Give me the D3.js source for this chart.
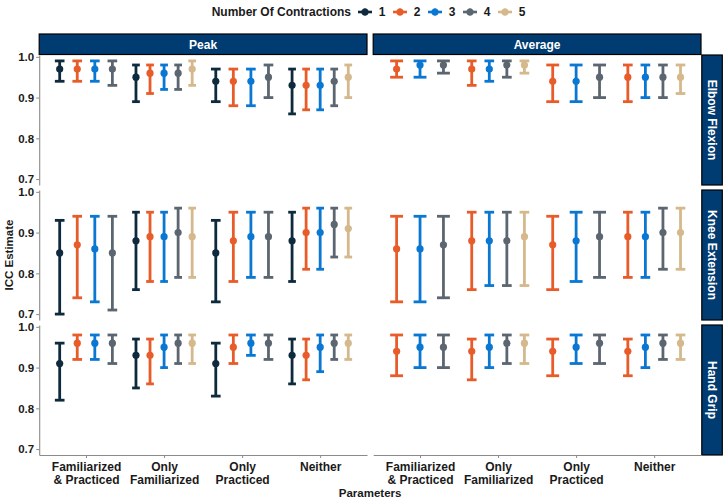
<!DOCTYPE html>
<html lang="en">
  <head>
    <meta charset="UTF-8" />
    <title>ICC Estimate by Parameters</title>
    <script src="https://d3js.org/d3.v7.min.js"></script>
    <style>
      body { margin: 0; background: #fff; }
      svg text { font-family: "Liberation Sans", Arial, sans-serif; font-weight: bold; }
    </style>
  </head>
  <body>
    <svg id="chart" width="727" height="501"></svg>

    <script>
      // categories
      const params = ["Familiarized & Practiced", "Only Familiarized", "Only Practiced", "Neither"];
      const paramLines = [["Familiarized", "& Practiced"], ["Only", "Familiarized"], ["Only", "Practiced"], ["Neither"]];
      const measures = ["Peak", "Average"];
      const joints = ["Elbow Flexion", "Knee Extension", "Hand Grip"];
      const contractions = ["1", "2", "3", "4", "5"];
      const yTicks = [0.7, 0.8, 0.9, 1.0];

      // [parameter index, contractions, estimate, lower CI, upper CI]
      const peakElbow = [
        [0, "1", 0.97, 0.94, 0.99], [0, "2", 0.97, 0.94, 0.99], [0, "3", 0.97, 0.94, 0.99], [0, "4", 0.97, 0.93, 0.99],
        [1, "1", 0.95, 0.89, 0.98], [1, "2", 0.96, 0.91, 0.98], [1, "3", 0.96, 0.92, 0.98], [1, "4", 0.96, 0.92, 0.98], [1, "5", 0.97, 0.93, 0.99],
        [2, "1", 0.94, 0.89, 0.97], [2, "2", 0.94, 0.88, 0.97], [2, "3", 0.94, 0.88, 0.97], [2, "4", 0.95, 0.90, 0.98],
        [3, "1", 0.93, 0.86, 0.97], [3, "2", 0.93, 0.87, 0.97], [3, "3", 0.93, 0.87, 0.97], [3, "4", 0.94, 0.88, 0.97], [3, "5", 0.95, 0.90, 0.98]
      ];
      const averageElbow = [
        [0, "2", 0.97, 0.95, 0.99], [0, "3", 0.98, 0.95, 0.99], [0, "4", 0.98, 0.96, 0.99],
        [1, "2", 0.97, 0.93, 0.99], [1, "3", 0.97, 0.94, 0.99], [1, "4", 0.98, 0.95, 0.99], [1, "5", 0.98, 0.96, 0.99],
        [2, "2", 0.94, 0.89, 0.98], [2, "3", 0.94, 0.89, 0.98], [2, "4", 0.95, 0.90, 0.98],
        [3, "2", 0.95, 0.89, 0.98], [3, "3", 0.95, 0.90, 0.98], [3, "4", 0.95, 0.90, 0.98], [3, "5", 0.95, 0.91, 0.98]
      ];
      const peakKnee = [
        [0, "1", 0.85, 0.70, 0.93], [0, "2", 0.87, 0.74, 0.94], [0, "3", 0.86, 0.73, 0.94], [0, "4", 0.85, 0.71, 0.94],
        [1, "1", 0.88, 0.76, 0.95], [1, "2", 0.89, 0.78, 0.95], [1, "3", 0.89, 0.78, 0.95], [1, "4", 0.90, 0.79, 0.96], [1, "5", 0.89, 0.79, 0.96],
        [2, "1", 0.85, 0.73, 0.93], [2, "2", 0.88, 0.78, 0.95], [2, "3", 0.89, 0.79, 0.95], [2, "4", 0.89, 0.79, 0.95],
        [3, "1", 0.88, 0.78, 0.95], [3, "2", 0.90, 0.81, 0.96], [3, "3", 0.90, 0.81, 0.96], [3, "4", 0.92, 0.84, 0.96], [3, "5", 0.91, 0.84, 0.96]
      ];
      const averageKnee = [
        [0, "2", 0.86, 0.73, 0.94], [0, "3", 0.86, 0.73, 0.94], [0, "4", 0.87, 0.74, 0.94],
        [1, "2", 0.88, 0.76, 0.95], [1, "3", 0.88, 0.77, 0.95], [1, "4", 0.88, 0.77, 0.95], [1, "5", 0.89, 0.77, 0.95],
        [2, "2", 0.87, 0.76, 0.94], [2, "3", 0.88, 0.78, 0.95], [2, "4", 0.89, 0.79, 0.95],
        [3, "2", 0.89, 0.79, 0.95], [3, "3", 0.89, 0.79, 0.95], [3, "4", 0.90, 0.81, 0.96], [3, "5", 0.90, 0.81, 0.96]
      ];
      const peakHand = [
        [0, "1", 0.91, 0.82, 0.96], [0, "2", 0.96, 0.92, 0.98], [0, "3", 0.96, 0.92, 0.98], [0, "4", 0.96, 0.91, 0.98],
        [1, "1", 0.93, 0.85, 0.97], [1, "2", 0.93, 0.86, 0.97], [1, "3", 0.95, 0.90, 0.98], [1, "4", 0.96, 0.91, 0.98], [1, "5", 0.96, 0.91, 0.98],
        [2, "1", 0.91, 0.83, 0.96], [2, "2", 0.95, 0.91, 0.98], [2, "3", 0.96, 0.93, 0.98], [2, "4", 0.96, 0.92, 0.98],
        [3, "1", 0.93, 0.86, 0.97], [3, "2", 0.93, 0.87, 0.97], [3, "3", 0.95, 0.89, 0.98], [3, "4", 0.96, 0.92, 0.98], [3, "5", 0.96, 0.92, 0.98]
      ];
      const averageHand = [
        [0, "2", 0.94, 0.88, 0.98], [0, "3", 0.95, 0.90, 0.98], [0, "4", 0.95, 0.90, 0.98],
        [1, "2", 0.94, 0.87, 0.97], [1, "3", 0.95, 0.90, 0.98], [1, "4", 0.96, 0.91, 0.98], [1, "5", 0.96, 0.91, 0.98],
        [2, "2", 0.94, 0.88, 0.97], [2, "3", 0.95, 0.91, 0.98], [2, "4", 0.96, 0.91, 0.98],
        [3, "2", 0.94, 0.88, 0.97], [3, "3", 0.95, 0.90, 0.98], [3, "4", 0.96, 0.92, 0.98], [3, "5", 0.96, 0.92, 0.98]
      ];

      // rows = joints, columns = measures
      const panelData = [
        [peakElbow, averageElbow],
        [peakKnee, averageKnee],
        [peakHand, averageHand]
      ];

      const svg = d3.select("#chart");
      const colLeft = [39.2, 373.2], colWidth = 327.8;
      const rowTop = [55, 190, 325], rowHeight = 130;
      const stripFill = "#003b71";

      const color = d3.scaleOrdinal()
        .domain(contractions)
        .range(["#0e2a3d", "#e85c2a", "#0a78d2", "#5c6670", "#d5b88c"]);

      const xScales = colLeft.map((l) =>
        d3.scalePoint().domain(params).range([l, l + colWidth]).padding(0.6)
      );
      const yScales = rowTop.map((t) =>
        d3.scaleLinear().domain([0.6855, 1.0045]).range([t + rowHeight, t])
      );

      // strips on top
      measures.forEach((m, c) => {
        svg.append("rect")
          .attr("x", colLeft[c]).attr("y", 34)
          .attr("width", colWidth).attr("height", 20.5)
          .attr("fill", stripFill).attr("stroke", "#000").attr("stroke-width", 1.2);
        svg.append("text")
          .attr("x", colLeft[c] + colWidth / 2).attr("y", 44.5)
          .attr("dy", "0.35em").attr("text-anchor", "middle")
          .attr("fill", "#fff").style("font-size", "12px")
          .text(m);
      });

      // strips on the right
      joints.forEach((j, r) => {
        const sx = colLeft[1] + colWidth + 0.8;
        svg.append("rect")
          .attr("x", sx).attr("y", rowTop[r])
          .attr("width", 20.5).attr("height", rowHeight)
          .attr("fill", stripFill).attr("stroke", "#000").attr("stroke-width", 1.2);
        svg.append("text")
          .attr("transform", `translate(${sx + 10.25},${rowTop[r] + rowHeight / 2}) rotate(90)`)
          .attr("dy", "0.35em").attr("text-anchor", "middle")
          .attr("fill", "#fff").style("font-size", "12px")
          .text(j);
      });

      // y axes (left column only)
      yScales.forEach((y) => {
        const g = svg.append("g")
          .attr("transform", `translate(${colLeft[0]},0)`)
          .call(d3.axisLeft(y).tickValues(yTicks).tickFormat(d3.format(".1f")).tickSize(3).tickSizeOuter(0));
        g.select(".domain").attr("stroke", "#8a8a8a").attr("stroke-width", 1.1);
        g.selectAll(".tick line").attr("stroke", "#8a8a8a");
        g.selectAll(".tick text").attr("fill", "#1a1a1a").style("font-size", "11.5px").attr("x", -5);
      });

      // x axes (bottom row)
      xScales.forEach((x) => {
        const g = svg.append("g")
          .attr("transform", `translate(0,${rowTop[2] + rowHeight})`)
          .call(d3.axisBottom(x).tickSize(3).tickSizeOuter(0).tickFormat(""));
        g.select(".domain").attr("stroke", "#8a8a8a").attr("stroke-width", 1.1);
        g.selectAll(".tick line").attr("stroke", "#8a8a8a");
        g.selectAll(".tick").each(function (d, i) {
          const t = d3.select(this).append("text")
            .attr("fill", "#1a1a1a").attr("text-anchor", "middle")
            .style("font-size", "12px");
          paramLines[i].forEach((line, k) => {
            t.append("tspan").attr("x", 0).attr("y", 16 + k * 13).text(line);
          });
        });
      });

      // error bars
      panelData.forEach((row, r) => {
        row.forEach((rows, c) => {
          const x = xScales[c], y = yScales[r];
          const dodgeWidth = x.step() * 0.9;
          const g = svg.append("g");
          params.forEach((p, pi) => {
            const group = rows.filter((d) => d[0] === pi);
            const cx = x(p);
            const dodge = d3.scaleBand()
              .domain(group.map((d) => d[1]))
              .range([cx - dodgeWidth / 2, cx + dodgeWidth / 2]);
            const cap = dodge.bandwidth() * 0.55;
            group.forEach((d) => {
              const bx = dodge(d[1]) + dodge.bandwidth() / 2;
              const col = color(d[1]);
              g.append("line")
                .attr("x1", bx).attr("x2", bx)
                .attr("y1", y(d[3])).attr("y2", y(d[4]))
                .attr("stroke", col).attr("stroke-width", 2.8);
              [d[3], d[4]].forEach((v) => {
                g.append("line")
                  .attr("x1", bx - cap / 2).attr("x2", bx + cap / 2)
                  .attr("y1", y(v)).attr("y2", y(v))
                  .attr("stroke", col).attr("stroke-width", 2.8);
              });
              g.append("circle")
                .attr("cx", bx).attr("cy", y(d[2])).attr("r", 3.6)
                .attr("fill", col);
            });
          });
        });
      });

      // axis titles
      svg.append("text")
        .attr("x", (colLeft[0] + colLeft[1] + colWidth) / 2).attr("y", 497)
        .attr("text-anchor", "middle").attr("fill", "#1a1a1a").style("font-size", "11.5px")
        .text("Parameters");
      svg.append("text")
        .attr("transform", `translate(13,${(rowTop[0] + rowTop[2] + rowHeight) / 2}) rotate(-90)`)
        .attr("text-anchor", "middle").attr("fill", "#1a1a1a").style("font-size", "11.5px")
        .text("ICC Estimate");

      // legend
      const legend = svg.append("g").attr("transform", "translate(0,12)");
      legend.append("text")
        .attr("x", 351).attr("dy", "0.35em").attr("text-anchor", "end")
        .attr("fill", "#1a1a1a").style("font-size", "12px")
        .text("Number Of Contractions");
      const keyX = d3.scalePoint().domain(contractions).range([365, 505]);
      contractions.forEach((k) => {
        const kx = keyX(k);
        legend.append("line")
          .attr("x1", kx - 7).attr("x2", kx + 7)
          .attr("stroke", color(k)).attr("stroke-width", 2.6);
        legend.append("line")
          .attr("x1", kx).attr("x2", kx).attr("y1", -3.5).attr("y2", 3.5)
          .attr("stroke", color(k)).attr("stroke-width", 2.6);
        legend.append("circle").attr("cx", kx).attr("r", 3.6).attr("fill", color(k));
        legend.append("text")
          .attr("x", kx + 17).attr("dy", "0.35em").attr("text-anchor", "middle")
          .attr("fill", "#1a1a1a").style("font-size", "12px")
          .text(k);
      });
    </script>
  </body>
</html>
